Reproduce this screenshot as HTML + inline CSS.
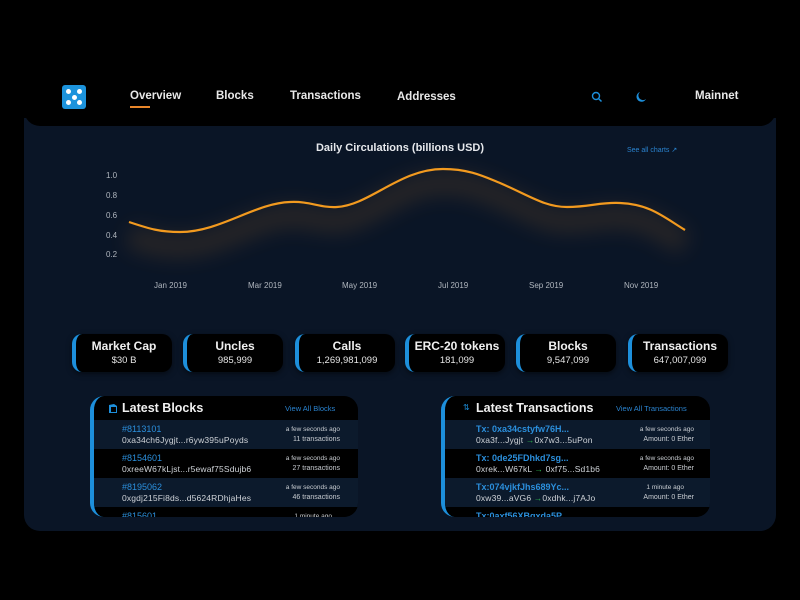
<!DOCTYPE html>
<html><head><meta charset="utf-8"><style>
*{margin:0;padding:0;box-sizing:border-box}
body{width:800px;height:600px;background:#000;position:relative;overflow:hidden;font-family:"Liberation Sans",sans-serif;color:#e6e8ec}
.abs{position:absolute}
.panel{left:24px;top:118px;width:752px;height:413px;background:#0a1526;border-radius:0 0 16px 16px}
.nav{left:24px;top:60px;width:752px;height:66px;background:#000;border-radius:0 0 16px 16px}
.navt{font-size:11.5px;color:#e8e8e8;white-space:nowrap;font-weight:bold}
.logo{left:62px;top:85px;width:24px;height:24px;background:#1c93dc;border-radius:3px}
.dot{position:absolute;width:5px;height:5px;background:#fff;border-radius:50%}
.card{background:#000;border-radius:10px;border-left:4px solid #1d8fdb;height:38px;width:100px;top:334px;text-align:center;box-shadow:0 2px 6px rgba(0,0,0,.5)}
.card .t{font-size:12px;color:#f0f0f0;margin-top:6px;line-height:13px;font-weight:bold}
.card .v{font-size:9.5px;color:#e6e6e6;margin-top:2px;line-height:11px}
.box{top:396px;height:121px;background:#000;border-radius:14px;border-left:4px solid #1d8fdb;overflow:hidden}
.hdr{position:absolute;top:0;left:0;right:0;height:24px}
.row{position:absolute;left:0;right:0;height:29px}
.nv{background:#0c1a2c}
.bk{background:#000}
.h1{font-size:9px;color:#2b8fdc;position:absolute;top:4px}
.h2{font-size:8.5px;color:#cfd3d8;position:absolute;top:15px;white-space:nowrap;letter-spacing:0.15px}
.r1{font-size:6.5px;color:#c9cdd2;position:absolute;top:6px;white-space:nowrap}
.r2{font-size:7px;color:#c9cdd2;position:absolute;top:16px;white-space:nowrap}
.ax{font-size:8px;color:#b0b6be;position:absolute}
</style></head><body>
<div class="abs panel"></div>
<div class="abs nav"></div>
<div class="abs logo">
<div class="dot" style="left:4px;top:4px"></div><div class="dot" style="left:15px;top:4px"></div>
<div class="dot" style="left:9.5px;top:9.5px"></div>
<div class="dot" style="left:4px;top:15px"></div><div class="dot" style="left:15px;top:15px"></div>
</div>
<div class="abs navt" style="left:130px;top:90px">Overview</div>
<div class="abs" style="left:130px;top:106px;width:20px;height:1.5px;background:#e8862a"></div>
<div class="abs navt" style="left:216px;top:90px">Blocks</div>
<div class="abs navt" style="left:290px;top:90px">Transactions</div>
<div class="abs navt" style="left:397px;top:91px">Addresses</div>
<svg class="abs" style="left:590px;top:90px" width="14" height="14" viewBox="0 0 14 14"><circle cx="6" cy="6" r="3.5" fill="none" stroke="#1d8fdb" stroke-width="1.4"/><line x1="8.6" y1="8.6" x2="11.5" y2="11.5" stroke="#1d8fdb" stroke-width="1.5"/></svg>
<svg class="abs" style="left:634px;top:90px" width="14" height="14" viewBox="0 0 14 14"><path d="M6 2 A5 5 0 1 0 12 9 A4 4 0 0 1 6 2Z" fill="#1d8fdb"/></svg>
<div class="abs navt" style="left:695px;top:90px">Mainnet</div>

<div class="abs" style="left:0;width:800px;top:142px;text-align:center;font-size:11px;font-weight:bold;color:#e6e8ec">Daily Circulations (billions USD)</div>
<div class="abs" style="left:627px;top:146px;font-size:7px;color:#2a83cf">See all charts ↗</div>

<div class="ax" style="left:106px;top:171px">1.0</div>
<div class="ax" style="left:106px;top:191px">0.8</div>
<div class="ax" style="left:106px;top:211px">0.6</div>
<div class="ax" style="left:106px;top:231px">0.4</div>
<div class="ax" style="left:106px;top:250px">0.2</div>
<div class="ax" style="left:154px;top:281px">Jan 2019</div>
<div class="ax" style="left:248px;top:281px">Mar 2019</div>
<div class="ax" style="left:342px;top:281px">May 2019</div>
<div class="ax" style="left:438px;top:281px">Jul 2019</div>
<div class="ax" style="left:529px;top:281px">Sep 2019</div>
<div class="ax" style="left:624px;top:281px">Nov 2019</div>

<svg class="abs" style="left:0;top:0" width="800" height="320">
<defs><filter id="bl" x="-20%" y="-50%" width="140%" height="200%"><feGaussianBlur stdDeviation="10"/></filter></defs>
<path d="M129,222 C150,229 160,232 180,232 C220,232 255,203 290,202 C310,201 320,208 337,207 C370,205 400,169 443,169 C470,169 485,177 500,183 C530,196 545,207 567,207 C590,207 600,202 620,203 C650,204 665,218 685,230" fill="none" stroke="#e8902a" stroke-width="24" opacity="0.13" filter="url(#bl)" transform="translate(0,14)"/>
<path d="M129,222 C150,229 160,232 180,232 C220,232 255,203 290,202 C310,201 320,208 337,207 C370,205 400,169 443,169 C470,169 485,177 500,183 C530,196 545,207 567,207 C590,207 600,202 620,203 C650,204 665,218 685,230" fill="none" stroke="#f29a1f" stroke-width="2.2"/>
</svg>

<div class="abs card" style="left:72px"><div class="t">Market Cap</div><div class="v">$30 B</div></div>
<div class="abs card" style="left:183px"><div class="t">Uncles</div><div class="v">985,999</div></div>
<div class="abs card" style="left:295px"><div class="t">Calls</div><div class="v">1,269,981,099</div></div>
<div class="abs card" style="left:405px"><div class="t">ERC-20 tokens</div><div class="v">181,099</div></div>
<div class="abs card" style="left:516px"><div class="t">Blocks</div><div class="v">9,547,099</div></div>
<div class="abs card" style="left:628px"><div class="t">Transactions</div><div class="v">647,007,099</div></div>

<div class="abs box" style="left:90px;width:268px">
<div class="hdr">
<svg class="abs" style="left:14px;top:7px" width="10" height="11" viewBox="0 0 10 11"><path d="M1 2 L6 1 L9 3 L9 10 L1 10Z" fill="#1d8fdb"/><path d="M3 4 L8 4 L8 9 L3 9Z" fill="#000"/></svg>
<div class="abs" style="left:28px;top:5px;font-size:12.5px;font-weight:bold;color:#f0f0f0">Latest Blocks</div>
<div class="abs" style="left:191px;top:8px;font-size:7.5px;color:#2a83cf">View All Blocks</div>
</div>
<div class="row nv" style="top:24px"><div class="h1" style="left:28px">#8113101</div><div class="h2" style="left:28px">0xa34ch6Jygjt...r6yw395uPoyds</div><div class="r1" style="right:18px">a few seconds ago</div><div class="r2" style="right:18px">11 transactions</div></div>
<div class="row bk" style="top:53px"><div class="h1" style="left:28px">#8154601</div><div class="h2" style="left:28px">0xreeW67kLjst...r5ewaf75Sdujb6</div><div class="r1" style="right:18px">a few seconds ago</div><div class="r2" style="right:18px">27 transactions</div></div>
<div class="row nv" style="top:82px"><div class="h1" style="left:28px">#8195062</div><div class="h2" style="left:28px">0xgdj215Fi8ds...d5624RDhjaHes</div><div class="r1" style="right:18px">a few seconds ago</div><div class="r2" style="right:18px">46 transactions</div></div>
<div class="row bk" style="top:111px"><div class="h1" style="left:28px">#815601</div><div class="r1" style="right:26px">1 minute ago</div></div>
</div>

<div class="abs box" style="left:441px;width:269px">
<div class="hdr">
<div class="abs" style="left:18px;top:7px;font-size:8px;color:#1d8fdb">⇅</div>
<div class="abs" style="left:31px;top:5px;font-size:12.5px;font-weight:bold;color:#f0f0f0">Latest Transactions</div>
<div class="abs" style="left:171px;top:8px;font-size:7.5px;color:#2a83cf">View All Transactions</div>
</div>
<div class="row nv" style="top:24px"><div class="h1" style="left:31px;font-weight:bold">Tx: 0xa34cstyfw76H...</div><div class="h2" style="left:31px">0xa3f...Jygjt <span style="color:#2bb24c">→</span>0x7w3...5uPon</div><div class="r1" style="right:16px">a few seconds ago</div><div class="r2" style="right:16px">Amount: 0 Ether</div></div>
<div class="row bk" style="top:53px"><div class="h1" style="left:31px;font-weight:bold">Tx: 0de25FDhkd7sg...</div><div class="h2" style="left:31px">0xrek...W67kL <span style="color:#2bb24c">→</span> 0xf75...Sd1b6</div><div class="r1" style="right:16px">a few seconds ago</div><div class="r2" style="right:16px">Amount: 0 Ether</div></div>
<div class="row nv" style="top:82px"><div class="h1" style="left:31px;font-weight:bold">Tx:074vjkfJhs689Yc...</div><div class="h2" style="left:31px">0xw39...aVG6 <span style="color:#2bb24c">→</span>0xdhk...j7AJo</div><div class="r1" style="right:26px">1 minute ago</div><div class="r2" style="right:16px">Amount: 0 Ether</div></div>
<div class="row bk" style="top:111px"><div class="h1" style="left:31px;font-weight:bold">Tx:0axf56XBqxda5P</div></div>
</div>
</body></html>
